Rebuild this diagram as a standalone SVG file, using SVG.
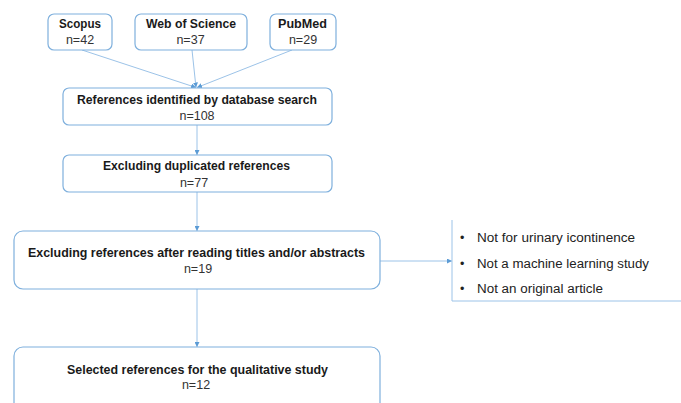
<svg xmlns="http://www.w3.org/2000/svg" width="681" height="403" viewBox="0 0 681 403">
<defs>
<marker id="ah" viewBox="0 0 6 6" refX="6" refY="3" markerWidth="5" markerHeight="5" orient="auto" markerUnits="userSpaceOnUse">
<path d="M0,0 L6,3 L0,6 z" fill="#5b9bd5"/>
</marker>
<style>
.box{fill:#ffffff;stroke:#7fb0dd;stroke-width:1.2}
.t{font-family:"Liberation Sans",Arial,sans-serif;font-weight:bold;font-size:12.5px;fill:#1a1a1a;text-anchor:middle}
.n{font-family:"Liberation Sans",Arial,sans-serif;font-size:12.5px;fill:#333;text-anchor:middle}
.li{font-family:"Liberation Sans",Arial,sans-serif;font-size:12.5px;fill:#222}
.c{fill:none;stroke:#9cc3e8;stroke-width:1;marker-end:url(#ah)}
</style>
</defs>
<rect width="681" height="403" fill="#ffffff"/>
<g id="connectors">
<line class="c" x1="82" y1="50" x2="196" y2="87.5"/>
<line class="c" x1="192" y1="50" x2="196" y2="87.5"/>
<line class="c" x1="292" y1="50" x2="197" y2="87.5"/>
<line class="c" x1="197" y1="125" x2="197" y2="155"/>
<line class="c" x1="197" y1="192" x2="197" y2="231"/>
<line class="c" x1="197" y1="289" x2="197" y2="347"/>
<line class="c" x1="380" y1="261" x2="452" y2="261"/>
</g>
<g id="scopus">
<rect class="box" x="48" y="14" width="64" height="36" rx="6"/>
<text class="t" x="80" y="28" textLength="42" lengthAdjust="spacingAndGlyphs">Scopus</text>
<text class="n" x="80" y="44">n=42</text>
</g>
<g id="wos">
<rect class="box" x="135" y="14" width="112" height="36" rx="6"/>
<text class="t" x="191" y="28" textLength="90" lengthAdjust="spacingAndGlyphs">Web of Science</text>
<text class="n" x="190.5" y="44">n=37</text>
</g>
<g id="pubmed">
<rect class="box" x="270" y="14" width="66" height="36" rx="6"/>
<text class="t" x="302.5" y="28" textLength="49" lengthAdjust="spacingAndGlyphs">PubMed</text>
<text class="n" x="303" y="44">n=29</text>
</g>
<g id="identified">
<rect class="box" x="63" y="88" width="269" height="37" rx="6"/>
<text class="t" x="197" y="104" textLength="240" lengthAdjust="spacingAndGlyphs">References identified by database search</text>
<text class="n" x="197" y="120">n=108</text>
</g>
<g id="duplicates">
<rect class="box" x="63" y="155" width="269" height="37" rx="6"/>
<text class="t" x="196.5" y="170" textLength="187" lengthAdjust="spacingAndGlyphs">Excluding duplicated references</text>
<text class="n" x="194" y="187">n=77</text>
</g>
<g id="screening">
<rect class="box" x="14" y="231" width="366" height="58" rx="9"/>
<text class="t" x="196.5" y="257" textLength="337" lengthAdjust="spacingAndGlyphs">Excluding references after reading titles and/or abstracts</text>
<text class="n" x="198" y="273">n=19</text>
</g>
<g id="exclusions">
<path d="M452,220 V301 H681" fill="none" stroke="#9cc3e8" stroke-width="1"/>
<text class="li" x="460" y="242">•</text>
<text class="li" x="477" y="242" textLength="158" lengthAdjust="spacingAndGlyphs">Not for urinary icontinence</text>
<text class="li" x="460" y="268">•</text>
<text class="li" x="477" y="268" textLength="172" lengthAdjust="spacingAndGlyphs">Not a machine learning study</text>
<text class="li" x="460" y="293">•</text>
<text class="li" x="477" y="293" textLength="126" lengthAdjust="spacingAndGlyphs">Not an original article</text>
</g>
<g id="selected">
<rect class="box" x="14" y="347" width="366" height="70" rx="9"/>
<text class="t" x="197.5" y="374" textLength="261" lengthAdjust="spacingAndGlyphs">Selected references for the qualitative study</text>
<text class="n" x="196" y="389">n=12</text>
</g>
</svg>
